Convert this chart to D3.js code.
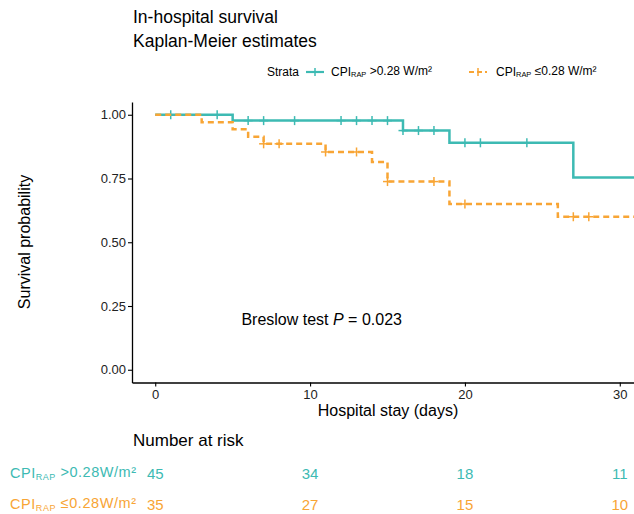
<!DOCTYPE html>
<html>
<head>
<meta charset="utf-8">
<script src="https://cdn.jsdelivr.net/npm/d3@7/dist/d3.min.js"></script>
<style>
  html, body { margin: 0; padding: 0; background: #fff; }
  svg { display: block; font-family: "Liberation Sans", Arial, sans-serif; }
</style>
</head>
<body>
<svg id="chart" width="634" height="514"></svg>
<script>
// Strata and colours
const strataKeys = ["high", "low"];
const strataColors = ["#3dbab3", "#f8a535"];

// Kaplan-Meier step points (time in days, survival probability)
const highTimes = [0, 5, 16, 19, 27];
const highSurv  = [1.000, 0.977, 0.938, 0.890, 0.754];
const highCensorTimes = [1, 4, 6, 7, 9, 12, 13, 14, 15, 16, 17, 18, 20, 21, 24];

const lowTimes = [0, 3, 5, 6, 7, 11, 14, 15, 19, 26];
const lowSurv  = [1.000, 0.971, 0.943, 0.914, 0.886, 0.854, 0.815, 0.738, 0.650, 0.600];
const lowCensorTimes = [7, 8, 11, 13, 15, 18, 20, 27, 28];

// Axis ticks
const xTicks = [0, 10, 20, 30];
const yTicks = [0, 0.25, 0.5, 0.75, 1];

// Number at risk table
const riskTimes = [0, 10, 20, 30];
const highAtRisk = [45, 34, 18, 11];
const lowAtRisk  = [35, 27, 15, 10];

const svg = d3.select("#chart");

const x = d3.scaleLinear().domain([-1.5, 31.5]).range([132, 643]);
const y = d3.scaleLinear().domain([-0.05, 1.05]).range([382.5, 102]);

// survival value at time t for a step function
function survAt(times, surv, t) {
  let v = surv[0];
  for (let i = 0; i < times.length; i++) if (times[i] <= t) v = surv[i];
  return v;
}

// Titles
svg.append("text").attr("x", 133).attr("y", 23).attr("font-size", 17.5).attr("fill", "#000")
  .text("In-hospital survival");
svg.append("text").attr("x", 133).attr("y", 47).attr("font-size", 17.5).attr("fill", "#000")
  .text("Kaplan-Meier estimates");

// Legend
function cpiLabel(sel, rel, spaced) {
  sel.append("tspan").text("CPI");
  sel.append("tspan").attr("font-size", "0.62em").attr("dy", "0.2em").text("RAP");
  sel.append("tspan").attr("dy", "-0.2em").text(" " + rel + (spaced ? " " : "") + "W/m²");
}
const legend = svg.append("g");
legend.append("text").attr("x", 267).attr("y", 76).attr("font-size", 12).text("Strata");
const legendItems = [
  { key: "high", x0: 306, tx: 331, rel: ">0.28", dash: null },
  { key: "low",  x0: 469, tx: 496, rel: "≤0.28", dash: "5,3" }
];
legendItems.forEach((d, i) => {
  const c = strataColors[i];
  legend.append("line").attr("x1", d.x0).attr("x2", d.x0 + 18).attr("y1", 72).attr("y2", 72)
    .attr("stroke", c).attr("stroke-width", 2.2).attr("stroke-dasharray", d.dash);
  legend.append("line").attr("x1", d.x0 + 9).attr("x2", d.x0 + 9).attr("y1", 68).attr("y2", 76)
    .attr("stroke", c).attr("stroke-width", 1.5);
  const t = legend.append("text").attr("x", d.tx).attr("y", 76).attr("font-size", 12).attr("fill", "#000");
  cpiLabel(t, d.rel, true);
});

// Clip for plotting panel
svg.append("clipPath").attr("id", "panel")
  .append("rect").attr("x", 132).attr("y", 95).attr("width", 520).attr("height", 288);

const series = [
  { times: highTimes, surv: highSurv, cens: highCensorTimes, color: strataColors[0], dash: null },
  { times: lowTimes,  surv: lowSurv,  cens: lowCensorTimes,  color: strataColors[1], dash: "6,4" }
];

const line = d3.line().x(d => x(d[0])).y(d => y(d[1])).curve(d3.curveStepAfter);
const plot = svg.append("g").attr("clip-path", "url(#panel)");

series.forEach(s => {
  const pts = s.times.map((t, i) => [t, s.surv[i]]);
  pts.push([31.5, s.surv[s.surv.length - 1]]);
  plot.append("path").datum(pts).attr("d", line)
    .attr("fill", "none").attr("stroke", s.color).attr("stroke-width", 2.5)
    .attr("stroke-dasharray", s.dash);
  // censoring marks
  const g = plot.append("g");
  s.cens.forEach(t => {
    const cx = x(t), cy = y(survAt(s.times, s.surv, t));
    g.append("line").attr("x1", cx - 4.5).attr("x2", cx + 4.5).attr("y1", cy).attr("y2", cy)
      .attr("stroke", s.color).attr("stroke-width", 1.5);
    g.append("line").attr("x1", cx).attr("x2", cx).attr("y1", cy - 4.5).attr("y2", cy + 4.5)
      .attr("stroke", s.color).attr("stroke-width", 1.5);
  });
});

// Axes
const yAxis = svg.append("g").attr("transform", "translate(132,0)")
  .call(d3.axisLeft(y).tickValues(yTicks).tickFormat(d3.format(".2f")).tickSize(4).tickSizeOuter(0));
const xAxis = svg.append("g").attr("transform", "translate(0,382.5)")
  .call(d3.axisBottom(x).tickValues(xTicks).tickFormat(d3.format("d")).tickSize(4).tickSizeOuter(0));
[yAxis, xAxis].forEach(a => {
  a.select(".domain").attr("stroke", "#000").attr("stroke-width", 1.3);
  a.selectAll(".tick line").attr("stroke", "#000").attr("stroke-width", 1.1);
  a.selectAll(".tick text").attr("fill", "#222").attr("font-size", 13)
    .attr("font-family", "Liberation Sans, Arial, sans-serif");
});
yAxis.selectAll(".tick text").attr("x", -6);
xAxis.selectAll(".tick text").attr("y", 7);

// Axis titles
svg.append("text").attr("x", 388).attr("y", 416).attr("text-anchor", "middle")
  .attr("font-size", 16).text("Hospital stay (days)");
svg.append("text").attr("transform", "translate(30,242) rotate(-90)").attr("text-anchor", "middle")
  .attr("font-size", 16).text("Survival probability");

// Test annotation
const ann = svg.append("text").attr("x", x(10.75)).attr("y", y(0.2) + 6)
  .attr("text-anchor", "middle").attr("font-size", 16);
ann.append("tspan").text("Breslow test ");
ann.append("tspan").attr("font-style", "italic").text("P");
ann.append("tspan").text(" = 0.023");

// Number at risk table
svg.append("text").attr("x", 133).attr("y", 446).attr("font-size", 17).text("Number at risk");
const rows = [
  { counts: highAtRisk, rel: ">0.28", color: strataColors[0], yy: 479 },
  { counts: lowAtRisk,  rel: "≤0.28", color: strataColors[1], yy: 510 }
];
rows.forEach(r => {
  const lab = svg.append("text").attr("x", 10).attr("y", r.yy - 1).attr("font-size", 14.5)
    .attr("fill", r.color).attr("textLength", 126).attr("lengthAdjust", "spacing");
  cpiLabel(lab, r.rel, false);
  svg.append("g").selectAll("text").data(riskTimes).join("text")
    .attr("x", d => x(d)).attr("y", r.yy).attr("text-anchor", "middle")
    .attr("font-size", 15).attr("fill", r.color)
    .text((d, i) => r.counts[i]);
});
</script>
</body>
</html>
